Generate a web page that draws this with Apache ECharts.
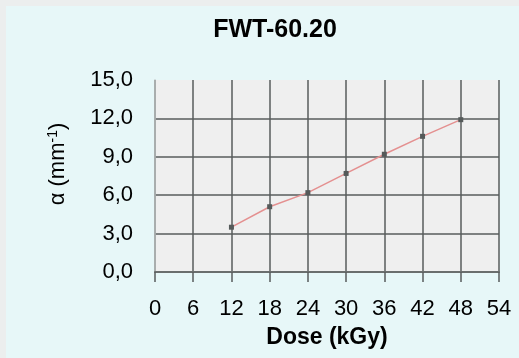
<!DOCTYPE html>
<html>
<head>
<meta charset="utf-8">
<script src="https://cdn.jsdelivr.net/npm/echarts@6/dist/echarts.min.js"></script>
<style>
  html, body { margin: 0; padding: 0; background: #eceeee; }
  #chart { width: 519px; height: 358px; }
</style>
</head>
<body>
<div id="chart"></div>
<script>
// Absorption coefficient of FWT-60.20 film versus absorbed dose
const doses = [12, 18, 24, 30, 36, 42, 48];           // kGy
const alpha = [3.5, 5.1, 6.2, 7.7, 9.2, 10.6, 11.9];  // mm^-1
const xTicks = [0, 6, 12, 18, 24, 30, 36, 42, 48, 54];
const yTicks = [0, 3, 6, 9, 12, 15];

const fontFamily = '"Liberation Sans", Arial, sans-serif';
const gridColor = '#585c5c';

const chart = echarts.init(document.getElementById('chart'), null, { renderer: 'canvas' });

chart.setOption({
  backgroundColor: '#e7f7f8',
  animation: false,
  title: {
    text: 'FWT-60.20',
    left: 270,
    top: 13,
    textAlign: 'center',
    textStyle: { fontFamily, fontSize: 25, fontWeight: 'bold', color: '#000' }
  },
  graphic: [
    {
      type: 'rect',
      left: 0, top: 0,
      shape: { width: 519, height: 358 },
      style: { fill: 'none', stroke: '#eceeee', lineWidth: 6 },
      z: -1
    },
    {
      type: 'text',
      x: 58, y: 164,
      rotation: Math.PI / 2,
      style: {
        text: '{a|α (mm}{s|-1}{a|)}',
        align: 'center',
        verticalAlign: 'middle',
        rich: {
          a: { fontFamily, fontSize: 22, color: '#000' },
          s: { fontFamily, fontSize: 14, color: '#000', verticalAlign: 'top', padding: [0, 0, 10, 0] }
        }
      }
    }
  ],
  grid: {
    left: 155, right: 20, top: 80, bottom: 86,
    show: true,
    backgroundColor: '#efefef',
    borderWidth: 0
  },
  xAxis: {
    type: 'value',
    min: 0, max: 54, interval: 6,
    name: 'Dose (kGy)',
    nameLocation: 'middle',
    nameGap: 54,
    nameTextStyle: { fontFamily, fontSize: 23, fontWeight: 'bold', color: '#000' },
    axisLine: { show: true, lineStyle: { color: '#6a6e6e', width: 2 } },
    axisTick: { show: true, length: 10, lineStyle: { color: gridColor, width: 1.5 } },
    axisLabel: {
      margin: 26,
      fontFamily, fontSize: 22, color: '#000',
      formatter: v => (xTicks.includes(v) ? String(v) : '')
    },
    splitLine: { show: true, lineStyle: { color: gridColor, width: 1.5 } }
  },
  yAxis: {
    type: 'value',
    min: 0, max: 15, interval: 3,
    axisLine: { show: true, lineStyle: { color: '#b8bcbc', width: 1.5 } },
    axisTick: { show: false },
    axisLabel: {
      margin: 22,
      fontFamily, fontSize: 22, color: '#000',
      formatter: v => (yTicks.includes(v) ? v.toFixed(1).replace('.', ',') : '')
    },
    // no rule along the top edge at 15,0
    splitLine: {
      show: true,
      lineStyle: { color: [gridColor, gridColor, gridColor, gridColor, gridColor, 'rgba(0,0,0,0)'], width: 1.5 }
    }
  },
  series: [{
    type: 'line',
    data: doses.map((d, i) => [d, alpha[i]]),
    symbol: 'rect',
    symbolSize: 5,
    itemStyle: { color: '#555a5a' },
    lineStyle: { color: '#e49090', width: 1.5 },
    z: 5
  }]
});
</script>
</body>
</html>
